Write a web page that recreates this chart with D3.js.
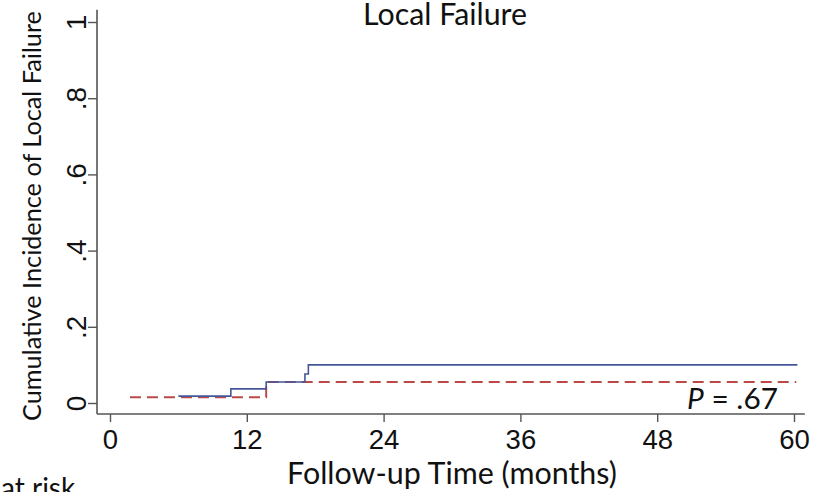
<!DOCTYPE html>
<html>
<head>
<meta charset="utf-8">
<script src="https://cdn.jsdelivr.net/npm/d3@7"></script>
<style>
  html, body { margin: 0; padding: 0; background: #fff; }
  svg { display: block; font-family: Lato, "Noto Sans", sans-serif; }
</style>
</head>
<body>
<div id="chart"></div>
<script>
// step curves (months, cumulative incidence)
const blueTimes = [6.0, 10.6, 13.7, 17.1, 17.4, 60.3];
const blueValues = [0.018, 0.037, 0.055, 0.076, 0.10, 0.10];
const redTimes = [1.75, 13.7, 60.2];
const redValues = [0.015, 0.055, 0.055];

const xTicks = [0, 12, 24, 36, 48, 60];
const yTicks = [0, 0.2, 0.4, 0.6, 0.8, 1];
const yTickLabels = ["0", ".2", ".4", ".6", ".8", "1"];

const width = 815, height = 492;

const svg = d3.select("#chart").append("svg")
    .attr("width", width)
    .attr("height", height);

const x = d3.scaleLinear().domain([0, 60]).range([110, 794]);
const y = d3.scaleLinear().domain([0, 1]).range([403, 22]);

const axisColor = "#555";

// shrink/grow a text's font so it spans roughly the width seen in the picture
function fitWidth(sel, target) {
    const fs = parseFloat(sel.style("font-size"));
    const w = sel.node().getComputedTextLength();
    if (w > 0) sel.style("font-size", (fs * target / w).toFixed(2) + "px");
}

// x axis (line runs a bit past the data range, Stata style)
const xAxis = svg.append("g")
    .attr("transform", `translate(0,${y(-0.029)})`)
    .call(d3.axisBottom(x).tickValues(xTicks).tickSize(8).tickPadding(8).tickFormat(d3.format("d")));
xAxis.select(".domain").remove();
xAxis.append("line")
    .attr("x1", x(-1.14)).attr("x2", x(60.95))
    .attr("stroke", axisColor).attr("stroke-width", 1.6);
xAxis.selectAll(".tick line").attr("stroke", axisColor).attr("stroke-width", 1.4);
xAxis.selectAll(".tick text")
    .attr("fill", "#111")
    .style("font-size", "27.5px")
    .attr("y", 10)
    .attr("dy", "0.9em");

// y axis with vertical labels
const yAxis = svg.append("g")
    .attr("transform", `translate(${x(-1.14)},0)`)
    .call(d3.axisLeft(y).tickValues(yTicks).tickSize(9).tickFormat((d, i) => yTickLabels[i]));
yAxis.select(".domain").remove();
yAxis.append("line")
    .attr("y1", y(1.032)).attr("y2", y(-0.029))
    .attr("stroke", axisColor).attr("stroke-width", 1.6);
yAxis.selectAll(".tick line").attr("stroke", axisColor).attr("stroke-width", 1.4);
yAxis.selectAll(".tick text")
    .attr("fill", "#111")
    .style("font-size", "28px")
    .attr("x", null).attr("dy", null)
    .attr("text-anchor", "middle")
    .attr("transform", "translate(-11,0) rotate(-90)");

// curves
const stepLine = d3.line()
    .x(d => x(d[0]))
    .y(d => y(d[1]))
    .curve(d3.curveStepAfter);

svg.append("path")
    .datum(redTimes.map((t, i) => [t, redValues[i]]))
    .attr("fill", "none")
    .attr("stroke", "#bb4a46")
    .attr("stroke-width", 2)
    .attr("stroke-dasharray", "11,6")
    .attr("d", stepLine);

svg.append("path")
    .datum(blueTimes.map((t, i) => [t, blueValues[i]]))
    .attr("fill", "none")
    .attr("stroke", "#45579a")
    .attr("stroke-width", 1.6)
    .attr("d", stepLine);

// titles
const title = svg.append("text")
    .attr("x", 445).attr("y", 25)
    .attr("text-anchor", "middle")
    .style("font-size", "28px")
    .attr("fill", "#111")
    .text("Local Failure");
fitWidth(title, 164);

const yTitle = svg.append("text")
    .attr("transform", "translate(41,216) rotate(-90)")
    .attr("text-anchor", "middle")
    .style("font-size", "28px")
    .attr("fill", "#111")
    .text("Cumulative Incidence of Local Failure");
fitWidth(yTitle, 410);

const xTitle = svg.append("text")
    .attr("x", 452).attr("y", 484)
    .attr("text-anchor", "middle")
    .style("font-size", "28px")
    .attr("fill", "#111")
    .text("Follow-up Time (months)");
fitWidth(xTitle, 330);

const pText = svg.append("text")
    .attr("x", 778).attr("y", 409)
    .attr("text-anchor", "end")
    .style("font-size", "27px")
    .attr("fill", "#111");
pText.append("tspan").style("font-style", "italic").text("P");
pText.append("tspan").text(" = .67");
fitWidth(pText, 91);

svg.append("text")
    .attr("x", 1).attr("y", 498)
    .style("font-size", "28px")
    .attr("fill", "#111")
    .text("at risk");
</script>
</body>
</html>
